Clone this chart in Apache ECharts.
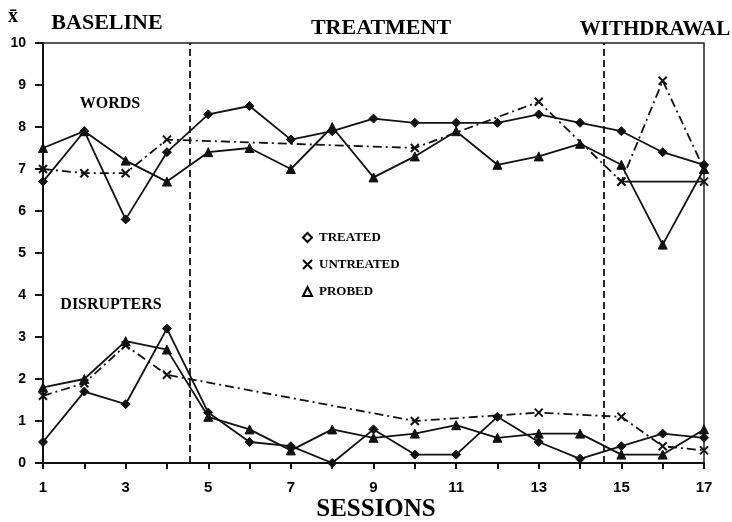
<!DOCTYPE html>
<html>
<head>
<meta charset="utf-8">
<script src="https://cdn.jsdelivr.net/npm/echarts@6/dist/echarts.min.js"></script>
<style>html,body{margin:0;padding:0;background:#fff;}#c{width:732px;height:522px;}</style>
</head>
<body>
<div id="c"></div>
<script>
var sessions = [1,2,3,4,5,6,7,8,9,10,11,12,13,14,15,16,17];
var treatedWords   = [6.7,7.9,5.8,7.4,8.3,8.5,7.7,7.9,8.2,8.1,8.1,8.1,8.3,8.1,7.9,7.4,7.1];
var untreatedWords = [7.0,6.9,6.9,7.7,null,null,null,null,null,7.5,null,null,8.6,null,6.7,9.1,7.0];
var untreatedWordsSkip = [null,null,null,null,null,null,null,null,null,null,null,null,null,null,6.7,null,6.7];
var probedWords    = [7.5,7.9,7.2,6.7,7.4,7.5,7.0,8.0,6.8,7.3,7.9,7.1,7.3,7.6,7.1,5.2,7.0];
var treatedDisrupters   = [0.5,1.7,1.4,3.2,1.2,0.5,0.4,0.0,0.8,0.2,0.2,1.1,0.5,0.1,0.4,0.7,0.6];
var untreatedDisrupters = [1.6,1.9,2.8,2.1,null,null,null,null,null,1.0,null,null,1.2,null,1.1,0.4,0.3];
var probedDisrupters    = [1.8,2.0,2.9,2.7,1.1,0.8,0.3,0.8,0.6,0.7,0.9,0.6,0.7,0.7,0.2,0.2,0.8];
var phaseChanges = [4.55, 14.58];
var phaseNames = ['BASELINE','TREATMENT','WITHDRAWAL'];
var seriesNames = ['TREATED','UNTREATED','PROBED'];
var yTicks = [0,1,2,3,4,5,6,7,8,9,10];

var X_PATH = 'path://M0,0L10,10M10,0L0,10';
function pairs(arr){ return sessions.map(function(s,i){ return [s, arr[i]]; }); }
var serif = '"Liberation Serif", "DejaVu Serif", serif';
var sans = '"Liberation Sans", "DejaVu Sans", sans-serif';

function mk(name, arr, kind, extra){
  var symbol = kind==='T' ? 'diamond' : (kind==='U' ? X_PATH : 'triangle');
  var s = {
    name: name, type: 'line', data: pairs(arr), connectNulls: true,
    symbol: symbol, symbolSize: kind==='U' ? 8 : 9,
    showAllSymbol: true,
    itemStyle: {color: '#111', borderColor: '#111', borderWidth: kind==='U' ? 2 : 1},
    lineStyle: {color: '#111', width: 1.8, type: kind==='U' ? [9,4,2,4] : 'solid'},
    emphasis: {disabled: true}, animation: false, z: 3
  };
  if (extra) for (var k in extra) s[k] = extra[k];
  return s;
}

var chart = echarts.init(document.getElementById('c'));
var option = {
  animation: false,
  backgroundColor: '#fff',
  grid: {left: 43, right: 28, top: 43, bottom: 59, show: true, borderColor: '#222', borderWidth: 1.5, backgroundColor: 'transparent'},
  xAxis: {
    type: 'value', min: 1, max: 17, interval: 1,
    axisLine: {show: true, lineStyle: {color: '#111', width: 2}},
    axisTick: {show: true, length: 6, lineStyle: {color: '#111', width: 2}},
    axisLabel: {margin: 17, color: '#000', fontFamily: sans, fontWeight: 'bold', fontSize: 15,
      formatter: function(v){ return (v % 2 === 1) ? String(v) : ''; }},
    splitLine: {show: false}
  },
  yAxis: {
    type: 'value', min: yTicks[0], max: yTicks[yTicks.length-1], interval: 1,
    axisLine: {show: true, lineStyle: {color: '#111', width: 2}},
    axisTick: {show: true, length: 8, lineStyle: {color: '#111', width: 2}},
    axisLabel: {margin: 17, color: '#000', fontFamily: sans, fontWeight: 'bold', fontSize: 14},
    splitLine: {show: false}
  },
  legend: {
    orient: 'vertical', left: 297, top: 226, itemWidth: 9, itemHeight: 9, itemGap: 14,
    selectedMode: false,
    textStyle: {fontFamily: serif, fontWeight: 900, fontSize: 13, color: '#000', padding: [0,0,0,2]},
    data: [
      {name: seriesNames[0], icon: 'diamond', itemStyle: {color: '#fff', borderColor: '#000', borderWidth: 2}},
      {name: seriesNames[1], icon: X_PATH, itemStyle: {color: '#000', borderColor: '#000', borderWidth: 2}},
      {name: seriesNames[2], icon: 'triangle', itemStyle: {color: '#fff', borderColor: '#000', borderWidth: 2}}
    ]
  },
  graphic: [
    {type: 'text', left: 8, top: 7, style: {text: 'x\u0304', font: 'bold 20px ' + serif, fill: '#000'}},
    {type: 'text', x: 107, y: 23, style: {text: phaseNames[0], font: 'bold 22px ' + serif, fill: '#000', align: 'center', verticalAlign: 'middle'}},
    {type: 'text', x: 381, y: 28, style: {text: phaseNames[1], font: 'bold 22px ' + serif, fill: '#000', align: 'center', verticalAlign: 'middle'}},
    {type: 'text', x: 655, y: 30, style: {text: phaseNames[2], font: 'bold 21px ' + serif, fill: '#000', align: 'center', verticalAlign: 'middle'}},
    {type: 'text', x: 376, y: 510, style: {text: 'SESSIONS', font: 'bold 25px ' + serif, fill: '#000', align: 'center', verticalAlign: 'middle'}},
    {type: 'text', x: 110, y: 104, style: {text: 'WORDS', font: '900 16px ' + serif, fill: '#000', align: 'center', verticalAlign: 'middle'}},
    {type: 'text', x: 111, y: 305, style: {text: 'DISRUPTERS', font: '900 16px ' + serif, fill: '#000', align: 'center', verticalAlign: 'middle'}}
  ],
  series: [
    mk(seriesNames[0], treatedWords, 'T', {
      markLine: {silent: true, symbol: 'none', label: {show: false},
        lineStyle: {color: '#111', width: 1.8, type: [7,4]},
        data: phaseChanges.map(function(p){ return {xAxis: p}; })}
    }),
    mk(seriesNames[1], untreatedWords, 'U'),
    mk(seriesNames[1], untreatedWordsSkip, 'U', {lineStyle: {color: '#111', width: 1.8, type: 'solid'}}),
    mk(seriesNames[2], probedWords, 'P'),
    mk(seriesNames[0], treatedDisrupters, 'T'),
    mk(seriesNames[1], untreatedDisrupters, 'U'),
    mk(seriesNames[2], probedDisrupters, 'P')
  ]
};
chart.setOption(option);
</script>
</body>
</html>
